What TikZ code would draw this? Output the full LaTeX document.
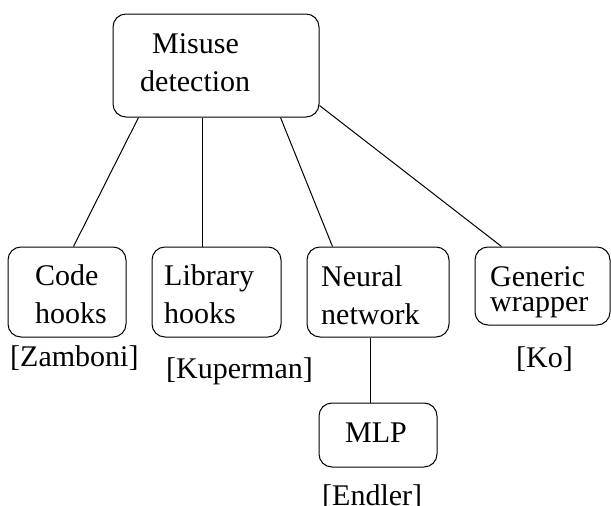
\documentclass[tikz,border=0pt]{standalone}
\usepackage{fontspec}
\setmainfont{Liberation Serif}
\usetikzlibrary{calc}
\begin{document}
\begin{tikzpicture}[x=1pt,y=-1pt,
  box/.style={draw, line width=1pt, rounded corners=13pt, inner sep=0pt},
  txt/.style={anchor=base west, inner sep=0pt, font=\fontsize{30}{36}\selectfont},
  link/.style={line width=1pt}]
\useasboundingbox (0,0) rectangle (611,506);

% boxes
\node[box, minimum width=206pt, minimum height=103pt] (top) at (216,65.5) {};
\node[box, minimum width=118pt, minimum height=90pt] (code) at (67,292) {};
\node[box, minimum width=129pt, minimum height=90pt] (lib) at (216.5,292) {};
\node[box, minimum width=142pt, minimum height=90pt] (neural) at (378,292) {};
\node[box, minimum width=135pt, minimum height=78pt] (gen) at (542.5,286) {};
\node[box, minimum width=118pt, minimum height=64pt] (mlp) at (378,435) {};

% box texts
\node[txt] (t1) at (152,53) {Misuse};
\node[txt] (t2) at (140,91) {detection};
\node[txt] (c1) at (35,285) {Code};
\node[txt] (c2) at (35,323) {hooks};
\node[txt] (l1) at (164,285) {Library};
\node[txt] (l2) at (164,323) {hooks};
\node[txt] (n1) at (321,286) {Neural};
\node[txt] (n2) at (321,324) {network};
\node[txt] (g1) at (490,286) {Generic};
\node[txt] (g2) at (490,311) {wrapper};
\node[txt] (m1) at (345,442) {MLP};

% references
\node[txt] (rz) at (10,366) {[Zamboni]};
\node[txt] (rk) at (166,378) {[Kuperman]};
\node[txt] (ro) at (516,367) {[Ko]};
\node[txt] (re) at (322,505) {[Endler]};

% connectors
\draw[link] ($(top.south west)+(26,0)$) -- ($(code.north west)+(66,0)$);
\draw[link] ($(top.south west)+(90,0)$) -- ($(lib.north west)+(51,0)$);
\draw[link] ($(top.south west)+(168,0)$) -- ($(neural.north west)+(26,0)$);
\draw[link] ($(top.south east)+(0,-12)$) -- ($(gen.north west)+(27,0)$);
\draw[link] ($(neural.south west)+(64,0)$) -- ($(mlp.north west)+(52,0)$);
\end{tikzpicture}
\end{document}
